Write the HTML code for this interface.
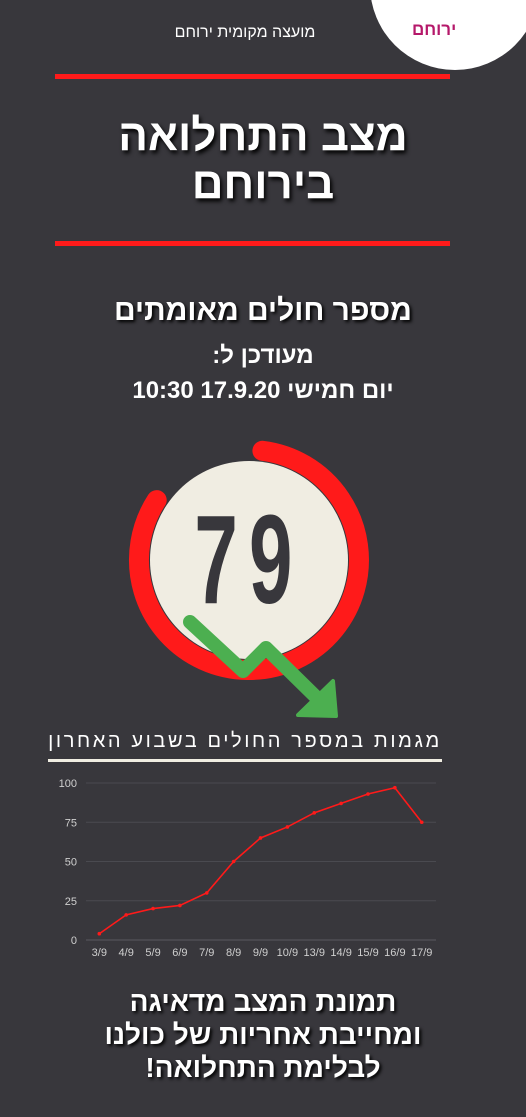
<!DOCTYPE html>
<html><head><meta charset="utf-8">
<style>
html,body{margin:0;padding:0}
body{width:526px;height:1117px;background:#38373c;position:relative;overflow:hidden;font-family:"Liberation Sans","DejaVu Sans",sans-serif;color:#fff}
.t{position:absolute;left:0;width:526px;text-align:center;direction:rtl;white-space:nowrap}
.bar{position:absolute;background:#ff1a1a;height:5px;left:55px;width:395px}
</style></head>
<body>
<div style="position:absolute;left:370px;top:-100px;width:170px;height:170px;border-radius:50%;background:#fff"></div>
<div style="position:absolute;left:412px;top:20px;font-size:17px;font-weight:bold;color:#b5186a;direction:rtl">ירוחם</div>
<div class="t" style="top:24px;left:-18px;font-size:16px">מועצה מקומית ירוחם</div>
<div class="bar" style="top:74px"></div>
<div class="t" style="top:112px;font-size:44px;font-weight:bold;line-height:48px;text-shadow:2px 3px 4px #000">מצב התחלואה<br>בירוחם</div>
<div class="bar" style="top:241px"></div>
<div class="t" style="top:294px;font-size:30px;font-weight:bold;text-shadow:2px 2px 3px #000">מספר חולים מאומתים</div>
<div class="t" style="top:342px;font-size:24px;font-weight:bold">מעודכן ל:</div>
<div class="t" style="top:377px;font-size:24px;font-weight:bold">יום חמישי 17.9.20 10:30</div>

<svg style="position:absolute;left:0;top:0" width="526" height="1117">
<circle cx="249" cy="560" r="99" fill="#f0ede2"/>
<path d="M262.4,450.8 A110,110 0 1 1 156.7,500.1" fill="none" stroke="#ff1a1a" stroke-width="20" stroke-linecap="round"/>
<text x="249" y="603" text-anchor="middle" font-family="Liberation Sans Narrow, Liberation Sans, sans-serif" font-size="126" font-weight="bold" fill="#38373c" transform="translate(249 0) scale(0.62 1) translate(-249 0)" letter-spacing="18">79</text>
<polyline points="190,622 243,671 266,648 318,699" fill="none" stroke="#4caf50" stroke-width="14" stroke-linejoin="round" stroke-linecap="round"/>
<polygon points="333,681 336,716 298,715" fill="#4caf50" stroke="#4caf50" stroke-width="4" stroke-linejoin="round"/>
</svg>

<div class="t" style="top:730px;left:-18px;font-size:20px;letter-spacing:2.6px">מגמות במספר החולים בשבוע האחרון</div>
<div style="position:absolute;left:48px;top:759px;width:394px;height:3px;background:#f0ede2"></div>
<svg id="chart" style="position:absolute;left:0;top:0" width="526" height="1117"></svg>

<div class="t" style="top:985px;font-size:28px;font-weight:bold;line-height:33px;text-shadow:2px 2px 3px #000">תמונת המצב מדאיגה<br>ומחייבת אחריות של כולנו<br>לבלימת התחלואה!</div>

<script>
const categories=["3/9","4/9","5/9","6/9","7/9","8/9","9/9","10/9","13/9","14/9","15/9","16/9","17/9"];
const cases=[4,16,20,22,30,50,65,72,81,87,93,97,75];
const yTicks=[0,25,50,75,100];
const NS="http://www.w3.org/2000/svg";
const svg=document.getElementById('chart');
const x0=99.3,dx=26.87,yBase=940,yTop=783,yMax=100,gl=86,gr=436;
const X=i=>x0+i*dx;
const Y=v=>yBase-(v/yMax)*(yBase-yTop);
function mk(t,a){const e=document.createElementNS(NS,t);for(const k in a)e.setAttribute(k,a[k]);svg.appendChild(e);return e;}
yTicks.forEach(v=>{
  const l=mk('line',{x1:gl,x2:gr,y1:Y(v),y2:Y(v),stroke:v===0?'#5a5a60':'#4a4a50','stroke-width':1});
  
  
  const t=mk('text',{x:77,y:Y(v)+4,'text-anchor':'end','font-size':11,fill:'#cfcfcf'});
  t.textContent=v;
  
  
});
categories.forEach((c,i)=>{
  const t=mk('text',{x:X(i),y:956,'text-anchor':'middle','font-size':11,fill:'#cfcfcf'});
  t.textContent=c;
  
  
});
const line=mk('polyline',{points:cases.map((v,i)=>X(i)+','+Y(v)).join(' '),fill:'none',stroke:'#ff1a1a','stroke-width':1.6});


cases.forEach((v,i)=>{
  const p=mk('circle',{cx:X(i),cy:Y(v),r:1.8,fill:'#ff1a1a'});
  
  
});
</script>
</body></html>
